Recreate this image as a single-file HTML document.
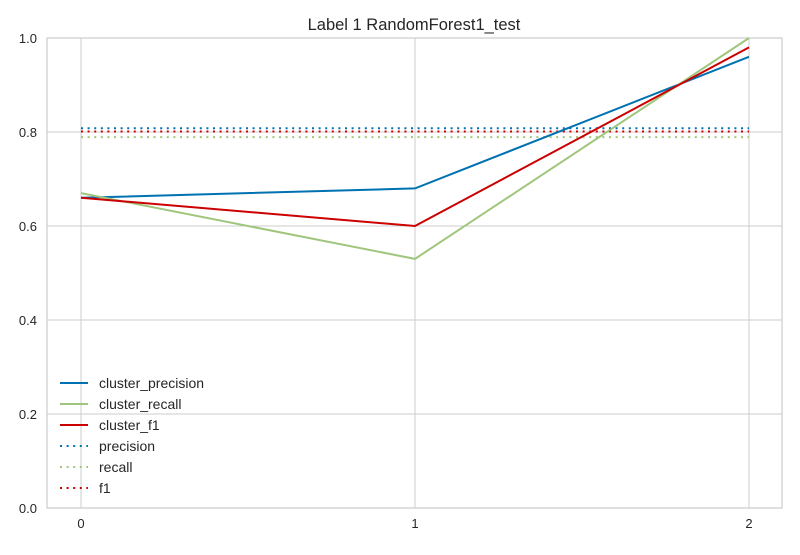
<!DOCTYPE html>
<html><head><meta charset="utf-8"><style>
body{margin:0;background:#fff;font-family:"Liberation Sans",sans-serif}
</style></head><body>
<svg id="c" width="800" height="550" xmlns="http://www.w3.org/2000/svg"></svg>
<script>
const categories=[0,1,2];
const clusterPrecision=[0.66,0.68,0.96];
const clusterRecall=[0.67,0.53,1.0];
const clusterF1=[0.66,0.60,0.98];
const precision=0.808;
const recall=0.789;
const f1=0.801;
const yTicks=[0,0.2,0.4,0.6,0.8,1.0];
const NS="http://www.w3.org/2000/svg";
const svg=document.getElementById('c');
const L=47,R=782,T=38,B=508;
const DASH='2,4.6';
const xs=i=>81+(749-81)*(i-categories[0])/(categories[categories.length-1]-categories[0]);
const ys=v=>B-(B-T)*v;
function el(t,a,p){const e=document.createElementNS(NS,t);for(const k in a)e.setAttribute(k,a[k]);(p||svg).appendChild(e);return e;}
let bg=el('rect',{x:L,y:T,width:R-L,height:B-T,fill:'#fff'});


yTicks.forEach(v=>{
 let g=el('line',{x1:L,x2:R,y1:ys(v),y2:ys(v),stroke:'#cccccc','stroke-width':1});
 
 
 let t=el('text',{x:37,y:ys(v)+5,'text-anchor':'end','font-size':13,fill:'#262626'});t.textContent=v.toFixed(1);
 
 
});
categories.forEach(c=>{
 let g=el('line',{x1:xs(c),x2:xs(c),y1:T,y2:B,stroke:'#cccccc','stroke-width':1});
 
 
 let t=el('text',{x:xs(c),y:528,'text-anchor':'middle','font-size':13,fill:'#262626'});t.textContent=c;
 
 
});
let fr=el('rect',{x:L,y:T,width:R-L,height:B-T,fill:'none',stroke:'#cccccc','stroke-width':1.2});


function hline(v,col,name){
 let l=el('line',{x1:xs(categories[0]),x2:xs(categories[categories.length-1]),y1:ys(v),y2:ys(v),stroke:col,'stroke-width':2,'stroke-dasharray':DASH});
 
 
}
hline(precision,'#0072b2','precision-line');
hline(f1,'#cc0000','f1-line');
hline(recall,'#9fc67c','recall-line');
function series(vals,col,name){
 let p=el('polyline',{points:vals.map((v,i)=>xs(categories[i])+','+ys(v)).join(' '),fill:'none',stroke:col,'stroke-width':2});
 
 
}
series(clusterPrecision,'#0072b2','cluster-precision-line');
series(clusterRecall,'#9fc67c','cluster-recall-line');
series(clusterF1,'#cc0000','cluster-f1-line');
const leg=[['cluster_precision','#0072b2',0],['cluster_recall','#9fc67c',0],['cluster_f1','#cc0000',0],['precision','#0072b2',1],['recall','#9fc67c',1],['f1','#cc0000',1]];
leg.forEach((e,i)=>{
 const y=383+i*21;
 let l=el('line',{x1:60,x2:88,y1:y,y2:y,stroke:e[1],'stroke-width':2});
 if(e[2])l.setAttribute('stroke-dasharray',DASH);
 
 
 let t=el('text',{x:99,y:y+5,'font-size':14,fill:'#262626'});t.textContent=e[0];
 
 
});
let ti=el('text',{x:414,y:30,'text-anchor':'middle','font-size':16.5,fill:'#262626'});ti.textContent='Label 1 RandomForest1_test';


</script>
</body></html>
